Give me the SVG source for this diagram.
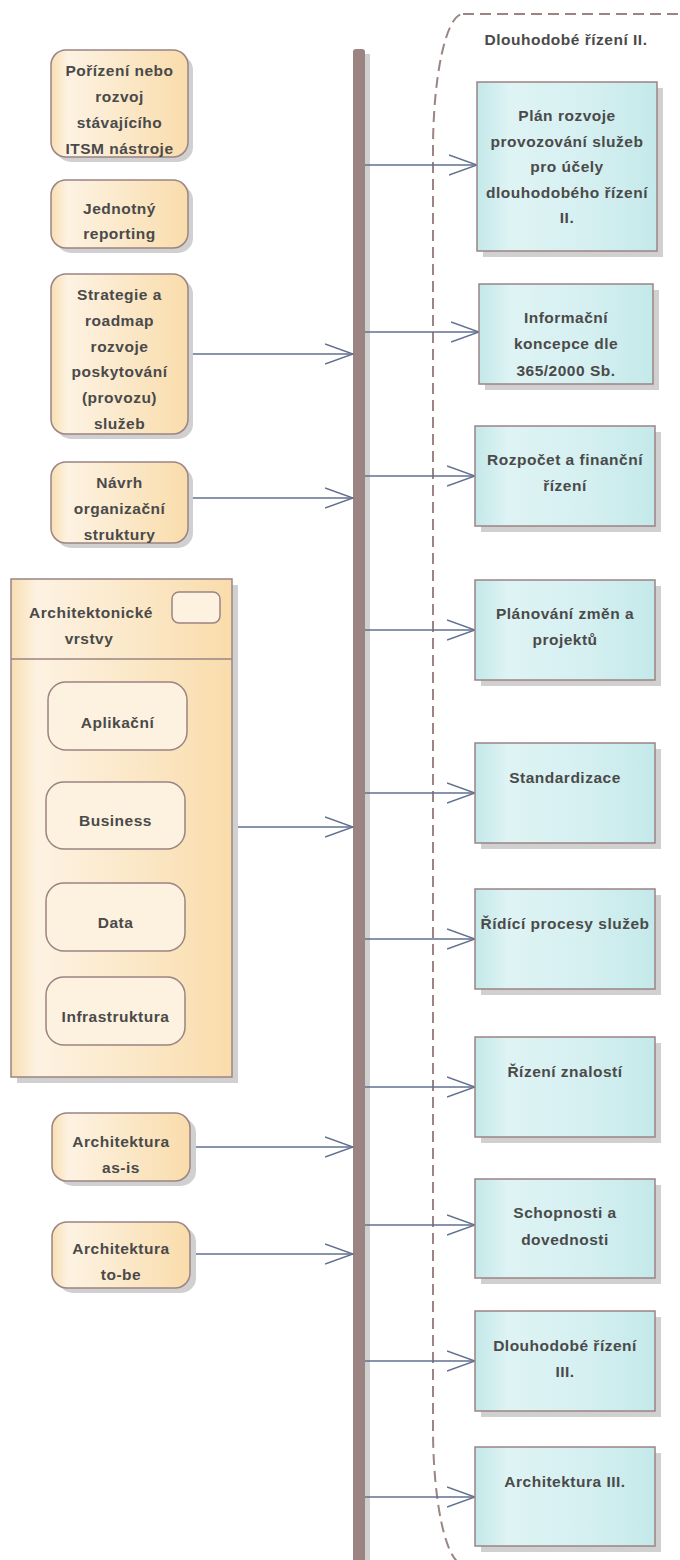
<svg xmlns="http://www.w3.org/2000/svg" width="680" height="1560" viewBox="0 0 680 1560">
<defs>
<linearGradient id="gCream" x1="0" y1="0" x2="1" y2="0">
<stop offset="0" stop-color="#f8dfb2"/>
<stop offset="0.12" stop-color="#fdf2e2"/>
<stop offset="0.55" stop-color="#fbe8c8"/>
<stop offset="1" stop-color="#f9dcab"/>
</linearGradient>
<linearGradient id="gCyan" x1="0" y1="0" x2="1" y2="0">
<stop offset="0" stop-color="#c3e8e9"/>
<stop offset="0.18" stop-color="#def3f4"/>
<stop offset="0.6" stop-color="#d6f0f1"/>
<stop offset="1" stop-color="#c4e9ea"/>
</linearGradient>
<marker id="arr" markerWidth="30" markerHeight="24" refX="28" refY="12" orient="auto" markerUnits="userSpaceOnUse">
<path d="M0,2 L28,12 L0,22" fill="none" stroke="#61708f" stroke-width="1.5"/>
</marker>
</defs>
<style>
text{font-family:"Liberation Sans",Arial,sans-serif;font-weight:bold;font-size:15.5px;fill:#4a4a4a;text-anchor:middle;letter-spacing:0.5px}
.sh{fill:#d0d0d0}
.cr{fill:url(#gCream);stroke:#9b8482;stroke-width:1.5}
.cy{fill:url(#gCyan);stroke:#9b8482;stroke-width:1.5}
.in{fill:#fdf1df;stroke:#9b8482;stroke-width:1.5}
.c{stroke:#61708f;stroke-width:1.5;fill:none;marker-end:url(#arr)}
</style>
<rect width="680" height="1560" fill="#ffffff"/>

<g id="boundary">
<rect x="433" y="14" width="320" height="1550" rx="30" ry="136" fill="none" stroke="#9b8482" stroke-width="2" stroke-dasharray="11 6"/>
<text x="566" y="45">Dlouhodobé řízení II.</text>
</g>

<g id="bar">
<rect x="358" y="54" width="12" height="1510" class="sh"/>
<rect x="353" y="49" width="12" height="1515" rx="3" fill="#9b8482"/>
</g>

<g id="connectors">
<line class="c" x1="188" y1="354" x2="353" y2="354"/>
<line class="c" x1="188" y1="498" x2="353" y2="498"/>
<line class="c" x1="232" y1="827" x2="353" y2="827"/>
<line class="c" x1="190" y1="1147" x2="353" y2="1147"/>
<line class="c" x1="190" y1="1254" x2="353" y2="1254"/>
<line class="c" x1="365" y1="165" x2="477" y2="165"/>
<line class="c" x1="365" y1="332" x2="479" y2="332"/>
<line class="c" x1="365" y1="476" x2="475" y2="476"/>
<line class="c" x1="365" y1="630" x2="475" y2="630"/>
<line class="c" x1="365" y1="793" x2="475" y2="793"/>
<line class="c" x1="365" y1="939" x2="475" y2="939"/>
<line class="c" x1="365" y1="1087" x2="475" y2="1087"/>
<line class="c" x1="365" y1="1225" x2="475" y2="1225"/>
<line class="c" x1="365" y1="1361" x2="475" y2="1361"/>
<line class="c" x1="365" y1="1497" x2="475" y2="1497"/>
</g>

<g id="n-porizeni">
<rect x="56" y="55" width="137" height="107" rx="15" class="sh"/>
<rect x="51" y="50" width="137" height="107" rx="15" class="cr"/>
<text x="119.5" y="76">Pořízení nebo</text>
<text x="119.5" y="102">rozvoj</text>
<text x="119.5" y="128">stávajícího</text>
<text x="119.5" y="154">ITSM nástroje</text>
</g>

<g id="n-reporting">
<rect x="56" y="185" width="137" height="68" rx="15" class="sh"/>
<rect x="51" y="180" width="137" height="68" rx="15" class="cr"/>
<text x="119.5" y="214">Jednotný</text>
<text x="119.5" y="239">reporting</text>
</g>

<g id="n-strategie">
<rect x="56" y="279" width="137" height="160" rx="15" class="sh"/>
<rect x="51" y="274" width="137" height="160" rx="15" class="cr"/>
<text x="119.5" y="300">Strategie a</text>
<text x="119.5" y="326">roadmap</text>
<text x="119.5" y="352">rozvoje</text>
<text x="119.5" y="377">poskytování</text>
<text x="119.5" y="403">(provozu)</text>
<text x="119.5" y="429">služeb</text>
</g>

<g id="n-navrh">
<rect x="56" y="467" width="137" height="81" rx="15" class="sh"/>
<rect x="51" y="462" width="137" height="81" rx="15" class="cr"/>
<text x="119.5" y="488">Návrh</text>
<text x="119.5" y="514">organizační</text>
<text x="119.5" y="540">struktury</text>
</g>

<g id="n-vrstvy">
<rect x="17" y="585" width="221" height="498" class="sh"/>
<rect x="11" y="579" width="221" height="498" class="cr"/>
<line x1="11" y1="659" x2="232" y2="659" stroke="#9b8482" stroke-width="1.5"/>
<rect x="172" y="592" width="48" height="31" rx="7" class="in"/>
<text x="91" y="618">Architektonické</text>
<text x="89" y="644">vrstvy</text>
<g id="n-aplikacni">
<rect x="48" y="682" width="139" height="68" rx="18" class="in"/>
<text x="117.5" y="728">Aplikační</text>
</g>
<g id="n-business">
<rect x="46" y="782" width="139" height="67" rx="18" class="in"/>
<text x="115.5" y="826">Business</text>
</g>
<g id="n-data">
<rect x="46" y="883" width="139" height="68" rx="18" class="in"/>
<text x="115.5" y="928">Data</text>
</g>
<g id="n-infra">
<rect x="46" y="977" width="139" height="68" rx="18" class="in"/>
<text x="115.5" y="1022">Infrastruktura</text>
</g>
</g>

<g id="n-asis">
<rect x="58" y="1118" width="138" height="68" rx="15" class="sh"/>
<rect x="52" y="1113" width="138" height="68" rx="15" class="cr"/>
<text x="121" y="1147">Architektura</text>
<text x="121" y="1173">as-is</text>
</g>

<g id="n-tobe">
<rect x="58" y="1227" width="138" height="66" rx="15" class="sh"/>
<rect x="52" y="1222" width="138" height="66" rx="15" class="cr"/>
<text x="121" y="1254">Architektura</text>
<text x="121" y="1280">to-be</text>
</g>

<g id="r-plan">
<rect x="483" y="88" width="180" height="169" class="sh"/>
<rect x="477" y="82" width="180" height="169" class="cy"/>
<text x="567" y="121">Plán rozvoje</text>
<text x="567" y="147">provozování služeb</text>
<text x="567" y="172">pro účely</text>
<text x="567" y="198">dlouhodobého řízení</text>
<text x="567" y="223">II.</text>
</g>

<g id="r-informacni">
<rect x="485" y="290" width="174" height="100" class="sh"/>
<rect x="479" y="284" width="174" height="100" class="cy"/>
<text x="566" y="323">Informační</text>
<text x="566" y="349">koncepce dle</text>
<text x="566" y="376">365/2000 Sb.</text>
</g>

<g id="r-rozpocet">
<rect x="481" y="432" width="180" height="100" class="sh"/>
<rect x="475" y="426" width="180" height="100" class="cy"/>
<text x="565" y="465">Rozpočet a finanční</text>
<text x="565" y="491">řízení</text>
</g>

<g id="r-planovani">
<rect x="481" y="586" width="180" height="100" class="sh"/>
<rect x="475" y="580" width="180" height="100" class="cy"/>
<text x="565" y="619">Plánování změn a</text>
<text x="565" y="645">projektů</text>
</g>

<g id="r-standardizace">
<rect x="481" y="749" width="180" height="100" class="sh"/>
<rect x="475" y="743" width="180" height="100" class="cy"/>
<text x="565" y="783">Standardizace</text>
</g>

<g id="r-ridici">
<rect x="481" y="895" width="180" height="100" class="sh"/>
<rect x="475" y="889" width="180" height="100" class="cy"/>
<text x="565" y="929">Řídící procesy služeb</text>
</g>

<g id="r-znalosti">
<rect x="481" y="1043" width="180" height="100" class="sh"/>
<rect x="475" y="1037" width="180" height="100" class="cy"/>
<text x="565" y="1077">Řízení znalostí</text>
</g>

<g id="r-schopnosti">
<rect x="481" y="1185" width="180" height="99" class="sh"/>
<rect x="475" y="1179" width="180" height="99" class="cy"/>
<text x="565" y="1218">Schopnosti a</text>
<text x="565" y="1245">dovednosti</text>
</g>

<g id="r-dlouhodobe3">
<rect x="481" y="1317" width="180" height="100" class="sh"/>
<rect x="475" y="1311" width="180" height="100" class="cy"/>
<text x="565" y="1351">Dlouhodobé řízení</text>
<text x="565" y="1377">III.</text>
</g>

<g id="r-architektura3">
<rect x="481" y="1453" width="180" height="99" class="sh"/>
<rect x="475" y="1447" width="180" height="99" class="cy"/>
<text x="565" y="1487">Architektura III.</text>
</g>
</svg>
